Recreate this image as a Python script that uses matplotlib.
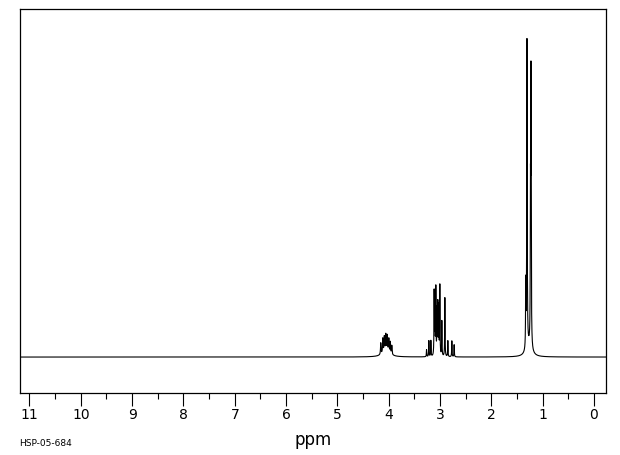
import numpy as np
import matplotlib
matplotlib.use("Agg")
import matplotlib.pyplot as plt
from matplotlib.ticker import MultipleLocator

# peak list: shift (ppm), relative height, half width (ppm)
shifts = [1.330, 1.306, 1.238, 1.228, 1.268,
          3.263, 3.218, 3.179, 3.115, 3.100, 3.082, 3.060, 3.043, 3.025, 3.004,
          2.965, 2.906, 2.848, 2.770, 2.725,
          4.155, 4.115, 4.086, 4.057, 4.028, 3.998, 3.969, 3.940, 4.050]
heights = [20.0, 97.0, 40.0, 85.0, 3.0,
           2.2, 5.0, 5.0, 20.0, 13.0, 21.0, 14.0, 16.0, 15.0, 22.0,
           11.0, 18.5, 5.0, 5.0, 3.8,
           3.6, 4.5, 4.6, 5.0, 4.8, 4.2, 3.6, 2.8, 2.0]
widths = [0.004, 0.005, 0.004, 0.005, 0.06,
          0.004, 0.004, 0.004, 0.004, 0.004, 0.004, 0.004, 0.004, 0.004, 0.004,
          0.004, 0.004, 0.004, 0.004, 0.004,
          0.006, 0.006, 0.006, 0.006, 0.006, 0.006, 0.006, 0.006, 0.080]

tick_labels = ["11", "10", "9", "8", "7", "6", "5", "4", "3", "2", "1", "0"]
code = "HSP-05-684"

ppm = np.linspace(11.2, -0.25, 40000)
spec = np.zeros_like(ppm)
for s, h, w in zip(shifts, heights, widths):
    spec += h * w**2 / (w**2 + (ppm - s)**2)

fig = plt.figure(figsize=(6.2, 4.55), dpi=100)
ax = fig.add_axes([20/620, 62/455, 586/620, 384/455])
ax.plot(ppm, spec, color="black", lw=0.8)

ax.set_xlim(11.185, -0.234)
ax.set_ylim(-11.3, 109.4)
ax.set_yticks([])
ax.xaxis.set_major_locator(MultipleLocator(1))
ax.xaxis.set_minor_locator(MultipleLocator(0.5))
ax.set_xticks(range(11, -1, -1))
ax.set_xticklabels(tick_labels)
ax.tick_params(axis="x", which="major", direction="out", length=9, width=0.8,
               pad=2, labelsize=10)
ax.tick_params(axis="x", which="minor", direction="out", length=4.5, width=0.8)
for sp in ax.spines.values():
    sp.set_linewidth(0.9)

ax.set_xlabel("ppm", fontsize=12, labelpad=6)
fig.text(19/620, 12/455, code, fontsize=6.5, va="center", ha="left")

fig.savefig("out.png", dpi=100)
